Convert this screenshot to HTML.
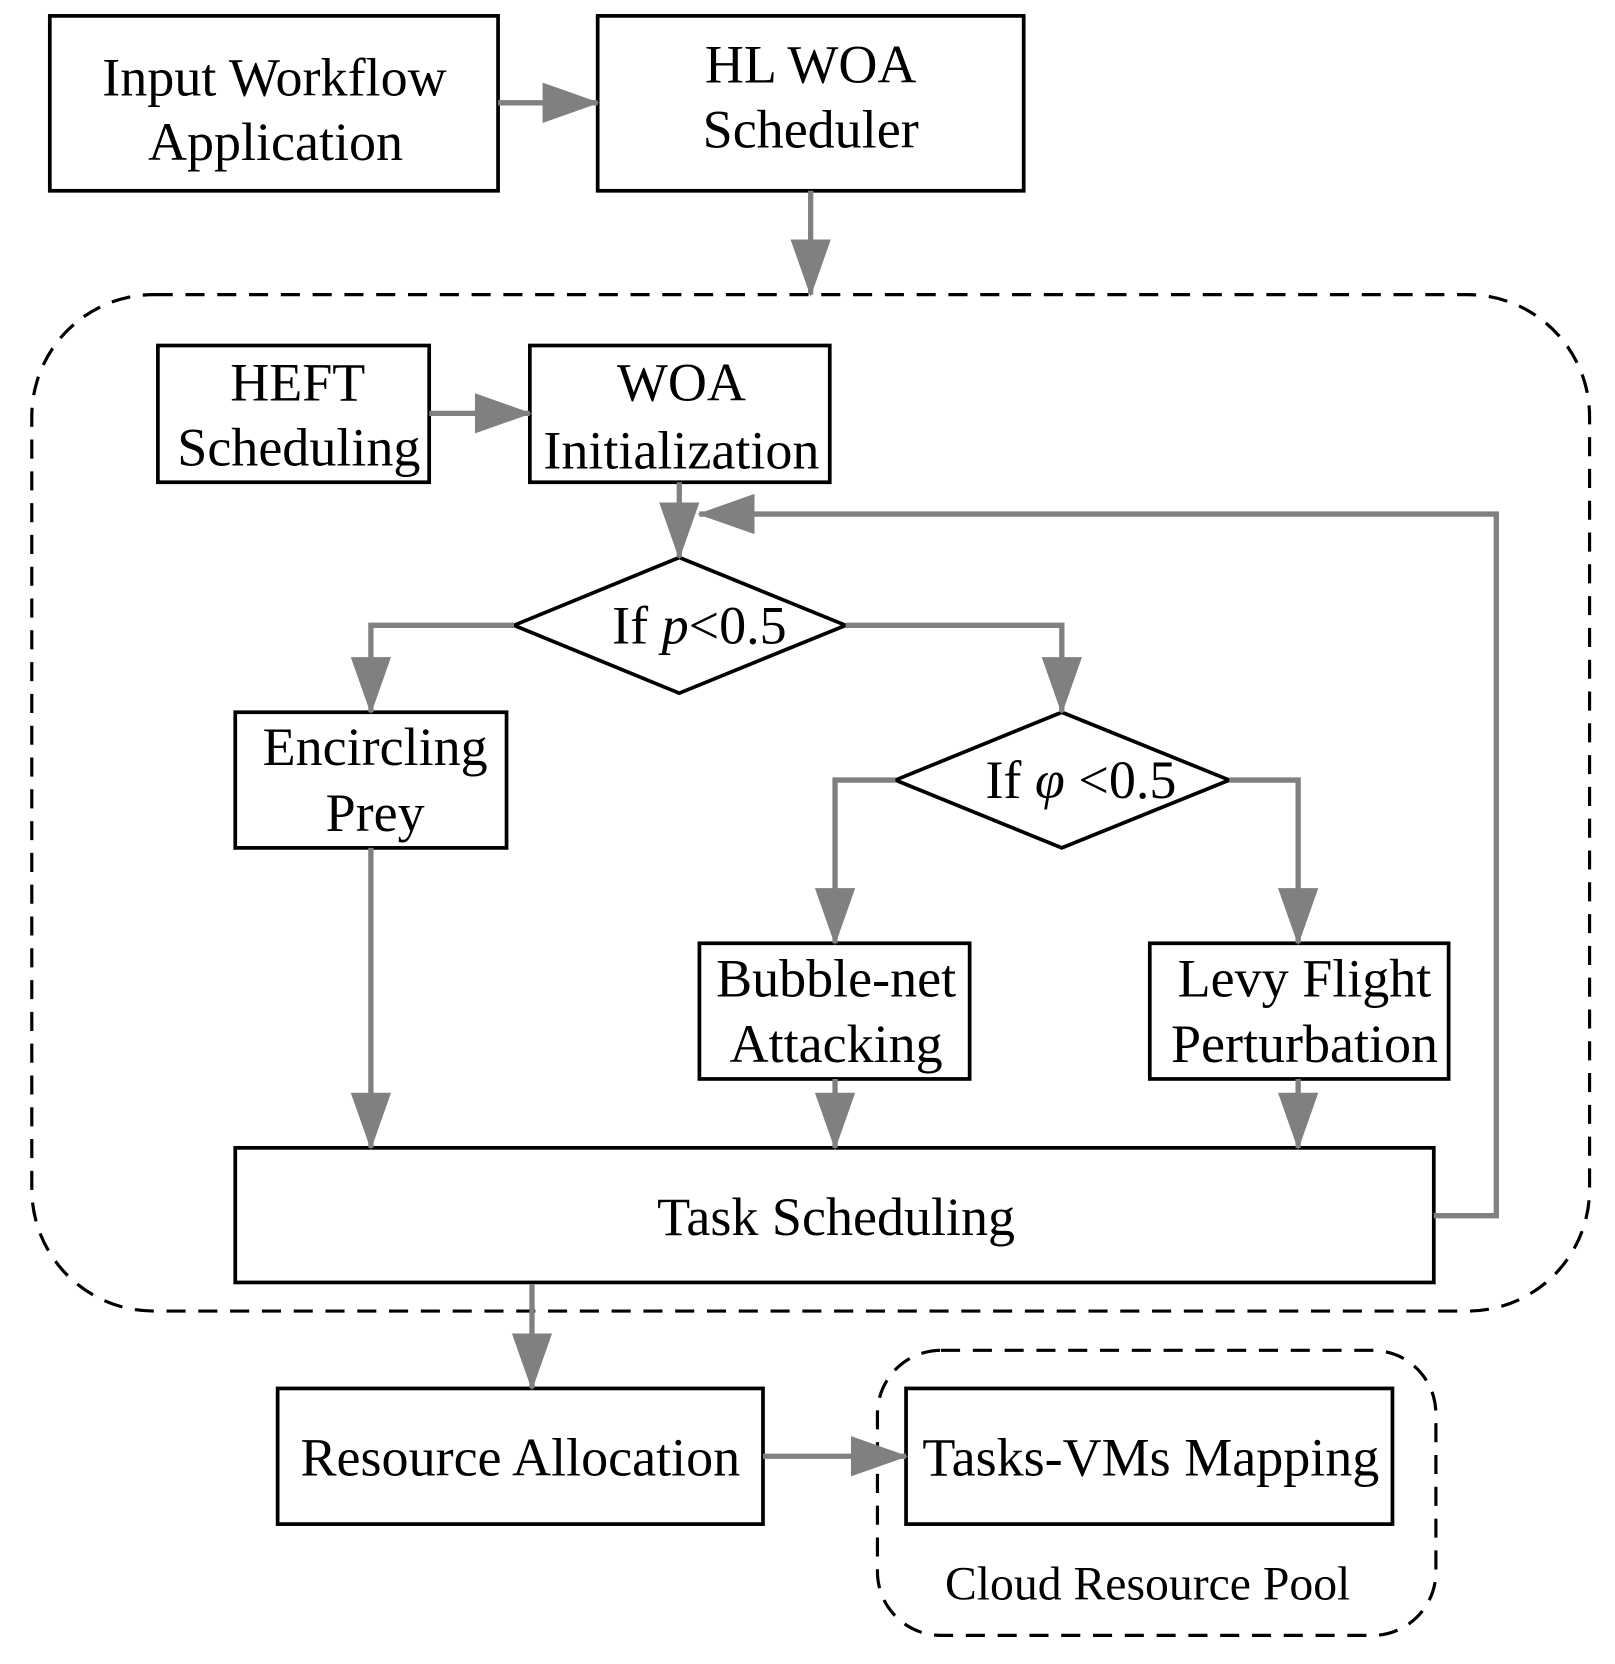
<!DOCTYPE html>
<html><head><meta charset="utf-8"><style>
html,body{margin:0;padding:0;background:#fff;}
svg{display:block;}
text{font-family:"Liberation Serif",serif;font-size:51px;fill:#000;text-anchor:middle;}
</style></head><body>
<svg width="1615" height="1664" viewBox="0 0 1524 1570" preserveAspectRatio="none" xmlns="http://www.w3.org/2000/svg">
<defs>
<marker id="a" markerUnits="userSpaceOnUse" markerWidth="54" markerHeight="40" refX="52" refY="20" orient="auto">
<path d="M0,1 L54,20 L0,39 Z" fill="#808080"/></marker>
</defs>
<g fill="none" stroke="#000" stroke-width="3" stroke-dasharray="18,12">
<rect x="30" y="278" width="1470" height="959" rx="115" ry="115"/>
<rect x="828" y="1274" width="527" height="269" rx="60" ry="60"/>
</g>
<g fill="#fff" stroke="#000" stroke-width="3.5">
<rect x="47" y="15" width="423" height="165"/>
<rect x="564" y="15" width="402" height="165"/>
<rect x="149" y="326" width="256" height="129"/>
<rect x="500" y="326" width="283" height="129"/>
<polygon points="641,526 798,590 641,654 485,590"/>
<rect x="222" y="672" width="256" height="128"/>
<polygon points="1002,672 1160,736 1002,800 845,736"/>
<rect x="660" y="890" width="255" height="128"/>
<rect x="1085" y="890" width="282" height="128"/>
<rect x="222" y="1083" width="1131" height="127"/>
<rect x="262" y="1310" width="458" height="128"/>
<rect x="855" y="1310" width="459" height="128"/>
</g>
<g fill="none" stroke="#808080" stroke-width="5" marker-end="url(#a)">
<path d="M470,97 H564"/>
<path d="M765,180 V278"/>
<path d="M405,390 H500"/>
<path d="M641,455 V526"/>
<path d="M485,590 H350 V672"/>
<path d="M798,590 H1002 V672"/>
<path d="M845,736 H788 V890"/>
<path d="M1160,736 H1225 V890"/>
<path d="M350,800 V1083"/>
<path d="M788,1018 V1083"/>
<path d="M1225,1018 V1083"/>
<path d="M1353,1147 H1412 V485 H660"/>
<path d="M502,1212 V1310"/>
<path d="M720,1374 H855"/>
</g>
<text x="259" y="90">Input Workflow</text>
<text x="260" y="151">Application</text>
<text x="765" y="78">HL WOA</text>
<text x="765" y="139">Scheduler</text>
<text x="281" y="378">HEFT</text>
<text x="282" y="439">Scheduling</text>
<text x="643" y="378">WOA</text>
<text x="643" y="442">Initialization</text>
<text x="660" y="607">If <tspan font-style="italic">p</tspan>&lt;0.5</text>
<text x="1020" y="753">If <tspan font-style="italic">φ</tspan> &lt;0.5</text>
<text x="354" y="722">Encircling</text>
<text x="354" y="784">Prey</text>
<text x="789" y="940">Bubble-net</text>
<text x="789" y="1002">Attacking</text>
<text x="1231" y="940">Levy Flight</text>
<text x="1231" y="1002">Perturbation</text>
<text x="789" y="1165">Task Scheduling</text>
<text x="491" y="1392">Resource Allocation</text>
<text x="1086" y="1392">Tasks-VMs Mapping</text>
<text x="1083" y="1509" style="font-size:45px">Cloud Resource Pool</text>
</svg>
</body></html>
